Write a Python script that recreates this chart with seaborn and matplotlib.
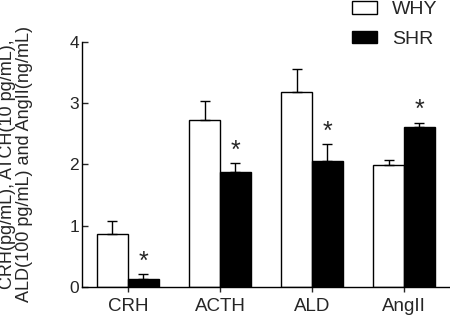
import pandas as pd
import matplotlib.pyplot as plt
import seaborn as sns

# values (mean and upper error)
categories = ["CRH", "ACTH", "ALD", "AngII"]
groups = ["WHY", "SHR"]
why_mean = [0.86, 2.73, 3.18, 1.99]
why_err = [0.22, 0.30, 0.38, 0.08]
shr_mean = [0.13, 1.88, 2.05, 2.61]
shr_err = [0.08, 0.14, 0.28, 0.07]
y_ticks = [0, 1, 2, 3, 4]

df = pd.DataFrame({
    "marker": categories * 2,
    "group": [groups[0]] * 4 + [groups[1]] * 4,
    "value": why_mean + shr_mean,
})
errs = {groups[0]: why_err, groups[1]: shr_err}

sns.set_style("ticks")
plt.rcParams["font.family"] = ["Liberation Sans", "DejaVu Sans"]

fig = plt.figure(figsize=(4.5, 3.25), dpi=100)
ax = fig.add_axes([0.182, 0.117, 0.818, 0.754])

sns.barplot(data=df, x="marker", y="value", hue="group", order=categories,
            hue_order=groups, palette=["white", "black"], width=0.67,
            edgecolor="black", linewidth=1.0, errorbar=None, ax=ax)

for cont, g in zip(ax.containers, groups):
    for bar, e in zip(cont, errs[g]):
        xc = bar.get_x() + bar.get_width() / 2
        h = bar.get_height()
        ax.errorbar(xc, h, yerr=[[0], [e]], fmt="none", ecolor="black",
                    elinewidth=1.0, capsize=3.3, capthick=1.0)
        if g == "SHR":
            # significance star above the SHR bar
            ax.annotate("*", (xc, h + e), xytext=(0, 4), textcoords="offset points",
                        ha="center", va="baseline", fontsize=18)

ax.set_xlim(-0.5, 3.5)
ax.set_ylim(0, 4)
ax.set_yticks(y_ticks)
ax.set_xlabel("")
ax.set_ylabel("")
fig.text(16 / 450, 0.495, "CRH(pg/mL), ATCH(10 pg/mL),\nALD(100 pg/mL) and AngII(ng/mL)",
         rotation=90, ha="center", va="center", fontsize=13, linespacing=1.05)
ax.tick_params(axis="x", labelsize=13.5, length=3.6, width=1.0, direction="out", pad=4)
ax.tick_params(axis="y", labelsize=12.5, length=4.3, width=1.0, direction="in", pad=2)
ax.spines["top"].set_visible(False)
ax.spines["right"].set_visible(False)
for s in ["left", "bottom"]:
    ax.spines[s].set_linewidth(1.0)
    ax.spines[s].set_color("black")

ax.legend(title=None, frameon=False, loc="upper left", borderpad=0,
          bbox_to_anchor=(352 / 450, 1 - 1 / 325), bbox_transform=fig.transFigure,
          fontsize=14, handlelength=1.3, handleheight=0.62, handletextpad=0.75,
          labelspacing=0.65, borderaxespad=0)

fig.savefig("out.png", dpi=100)
